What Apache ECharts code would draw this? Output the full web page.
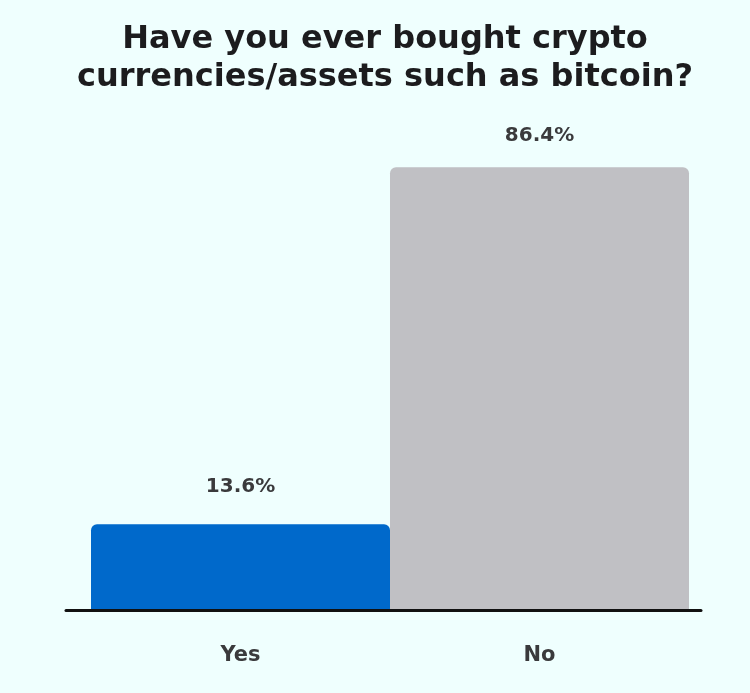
<!DOCTYPE html>
<html>
<head>
<meta charset="utf-8">
<script src="https://cdn.jsdelivr.net/npm/echarts@6/dist/echarts.min.js"></script>
<style>
html,body{margin:0;padding:0;background:#effffe;}
#c{width:750px;height:693px;}
</style>
</head>
<body>
<div id="c"></div>
<script>
var titleText = "Have you ever bought crypto\ncurrencies/assets such as bitcoin?";
var categories = ["Yes", "No"];
var values = [13.6, 86.4];
var barColors = ["#0069cb", "#c0c0c4"];
var labelGaps = [28, 21];

var chart = echarts.init(document.getElementById('c'));
var FONT = '"DejaVu Sans"';
chart.setOption({
  backgroundColor: '#effffe',
  animation: false,
  title: {
    text: titleText,
    left: 380,
    top: 16,
    textAlign: 'center',
    textStyle: {
      fontFamily: FONT,
      fontSize: 32,
      fontWeight: 'bold',
      lineHeight: 38,
      color: '#1c1c1e'
    }
  },
  grid: [
    {left: 91, right: 61, top: 149.6, bottom: 84},
    {left: 66, right: 49, top: 149.6, bottom: 83}
  ],
  xAxis: [
    {
      type: 'category', gridIndex: 0, data: categories,
      axisLine: {show: false}, axisTick: {show: false},
      axisLabel: {margin: 36, fontFamily: FONT, fontSize: 21, fontWeight: 'bold', color: '#3a3a3c'}
    },
    {
      type: 'category', gridIndex: 1, data: categories,
      axisLine: {show: true, lineStyle: {color: '#111111', width: 3}},
      axisTick: {show: false}, axisLabel: {show: false}
    }
  ],
  yAxis: [
    {type: 'value', gridIndex: 0, min: -3.67, max: 90, startValue: -3.67, show: false, splitLine: {show: false}},
    {type: 'value', gridIndex: 1, min: 0, max: 1, show: false, splitLine: {show: false}}
  ],
  series: [{
    type: 'bar',
    xAxisIndex: 0, yAxisIndex: 0,
    barWidth: '100%',
    data: values.map(function (v, i) {
      return {
        value: v,
        itemStyle: {color: barColors[i], borderRadius: [6, 6, 0, 0]},
        label: {distance: labelGaps[i]}
      };
    }),
    label: {
      show: true, position: 'top',
      formatter: '{c}%',
      fontFamily: FONT, fontSize: 20, fontWeight: 'bold', color: '#3a3a3c'
    }
  }]
});
</script>
</body>
</html>
